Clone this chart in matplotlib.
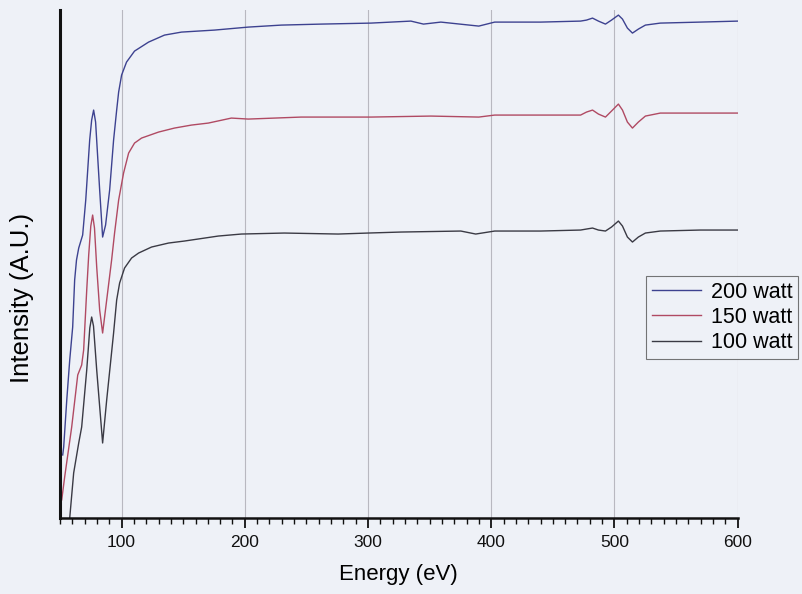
import matplotlib
matplotlib.use("Agg")
import matplotlib.pyplot as plt
from matplotlib.ticker import MultipleLocator

plt.rcParams['font.family'] = ['Liberation Sans', 'DejaVu Sans']

# Energy (eV) and intensity (arbitrary units)
e_200 = [52.2, 53.0, 55.5, 57.9, 60.3, 61.9, 63.4, 65.2, 68.4, 70.9, 74.1, 75.7, 77.3, 78.9,
         82.2, 84.6, 87.0, 90.3, 93.5, 96.0, 97.6, 100.0, 104.0, 110.5, 121.9, 134.8, 148.6,
         175.3, 202.8, 229.6, 262.0, 302.4, 334.8, 345.0, 359.1, 389.9, 402.8, 440.1, 472.5,
         477.3, 482.2, 487.0, 492.7, 497.6, 503.2, 506.5, 510.5, 514.6, 519.4, 525.1, 537.2,
         569.6, 600.4]
i_200 = [63, 71, 118, 158, 191, 238, 258, 270, 283, 318, 378, 398, 408, 396,
         328, 281, 293, 328, 378, 408, 426, 443, 456, 467, 476, 483, 486,
         488, 491, 493, 494, 495, 497, 494, 496, 492, 496, 496, 497,
         498, 500, 497, 494, 498, 503, 499, 490, 485, 489, 493, 495,
         496, 497]

e_150 = [50.6, 51.4, 53.8, 59.5, 64.4, 67.6, 69.2, 71.7, 73.3, 75.0, 76.5, 78.0, 79.8, 82.2,
         84.6, 87.9, 91.9, 94.3, 97.6, 101.6, 105.7, 110.5, 116.2, 130.0, 142.9, 156.7,
         170.4, 189.1, 202.8, 245.7, 302.4, 351.0, 389.9, 402.8, 440.1, 472.5, 477.3, 482.2,
         487.0, 492.7, 497.6, 503.2, 506.5, 510.5, 514.6, 519.4, 525.1, 537.2, 569.6, 600.4]
i_150 = [16, 18, 41, 91, 143, 153, 168, 228, 263, 292, 303, 290, 251, 208,
         185, 218, 258, 285, 318, 345, 365, 375, 380, 386, 390, 393,
         395, 400, 399, 401, 401, 402, 401, 403, 403, 403, 406, 408,
         404, 401, 407, 414, 408, 396, 390, 396, 402, 405, 405, 405]

e_100 = [57.9, 61.1, 65.2, 67.6, 71.7, 74.2, 75.7, 77.2, 79.8, 84.6, 87.9, 93.5, 96.0,
         98.4, 102.4, 108.1, 113.8, 124.3, 138.1, 151.0, 178.5, 197.2, 232.0, 275.7, 300.0,
         326.7, 375.3, 387.4, 402.8, 440.1, 472.5, 477.3, 482.2, 487.0, 492.7, 497.6, 503.2,
         506.5, 510.5, 514.6, 519.4, 525.1, 537.2, 569.6, 600.4]
i_100 = [0, 45, 75, 91, 148, 190, 201, 192, 148, 75, 118, 185, 218,
         235, 250, 260, 265, 271, 275, 277, 282, 284, 285, 284, 285,
         286, 287, 284, 287, 287, 288, 289, 290, 288, 287, 291, 297,
         292, 281, 276, 281, 285, 287, 288, 288]

labels = ['200 watt', '150 watt', '100 watt']
colors = ['#3d4290', '#b04a63', '#3a3a44']

bg = '#eef1f7'
fig = plt.figure(figsize=(8.02, 5.94), dpi=100, facecolor=bg)
ax = fig.add_axes([0.0748, 0.128, 0.845, 0.855])
ax.set_facecolor(bg)

for e, i, lab, c in zip([e_200, e_150, e_100], [i_200, i_150, i_100], labels, colors):
    ax.plot(e, i, color=c, lw=1.0, label=lab)

ax.set_xlim(50, 600)
ax.set_ylim(0, 508)
ax.xaxis.set_major_locator(MultipleLocator(100))
ax.xaxis.set_minor_locator(MultipleLocator(10))
ax.set_yticks([])
ax.grid(axis='x', which='major', color='#b8b8c0', lw=0.8)
ax.set_axisbelow(True)

for s in ['top', 'right']:
    ax.spines[s].set_visible(False)
ax.spines['left'].set_linewidth(2.2)
ax.spines['bottom'].set_linewidth(1.8)
ax.spines['left'].set_color('#111111')
ax.spines['bottom'].set_color('#111111')
ax.tick_params(axis='x', which='major', direction='out', length=7, width=1.3,
               labelsize=12.5, pad=5, colors='#111111')
ax.tick_params(axis='x', which='minor', direction='out', length=4, width=1.0, colors='#111111')

ax.set_xlabel('Energy (eV)', fontsize=16, labelpad=10)
ax.set_ylabel('Intensity (A.U.)', fontsize=18.5)
ax.yaxis.set_label_coords(-0.038, 0.433)

leg = ax.legend(loc='upper left', bbox_to_anchor=(0.865, 0.476), fontsize=15.5,
                frameon=True, fancybox=False, handlelength=2.3, handletextpad=0.45,
                borderpad=0.25, labelspacing=0.2, borderaxespad=0)
leg.get_frame().set_edgecolor('#555555')
leg.get_frame().set_linewidth(0.8)
leg.get_frame().set_facecolor(bg)

fig.savefig('out.png', dpi=100, facecolor=bg)
